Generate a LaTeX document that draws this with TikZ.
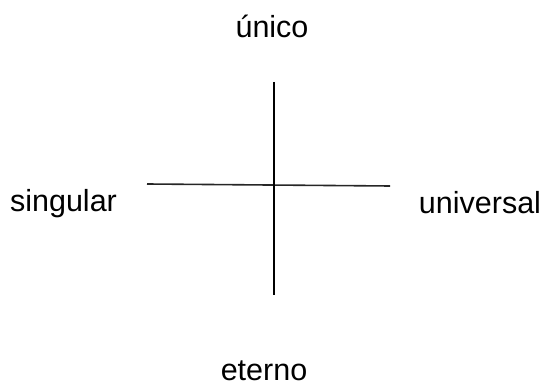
\documentclass[tikz,border=0pt]{standalone}
\usepackage{fontspec}
\setmainfont{Liberation Sans}
\usepackage{tikz}
\usetikzlibrary{positioning}

\tikzset{
  lbl/.style={anchor=base, inner sep=0pt, font=\fontsize{30.5}{36}\selectfont},
  axis/.style={line width=1.6pt, black!85}
}

\begin{document}
\begin{tikzpicture}[x=1pt,y=1pt]
  \useasboundingbox (0,0) rectangle (548,388);

  \node[lbl] (uni) at (272,350) {único};
  \node[lbl] (sing) at (63.5,176) {singular};
  \node[lbl] (univ) at (480,174) {universal};
  \node[lbl, text depth=0pt] (eter) at (264,8) {eterno};

  \coordinate (top) at (274,306);
  \coordinate (bot) at (274,93);
  \coordinate (lft) at (147,204);
  \coordinate (rgt) at (390,202);

  \draw[axis] (lft) -- (rgt);
  \draw[axis, black] (top) -- (bot);
\end{tikzpicture}
\end{document}
